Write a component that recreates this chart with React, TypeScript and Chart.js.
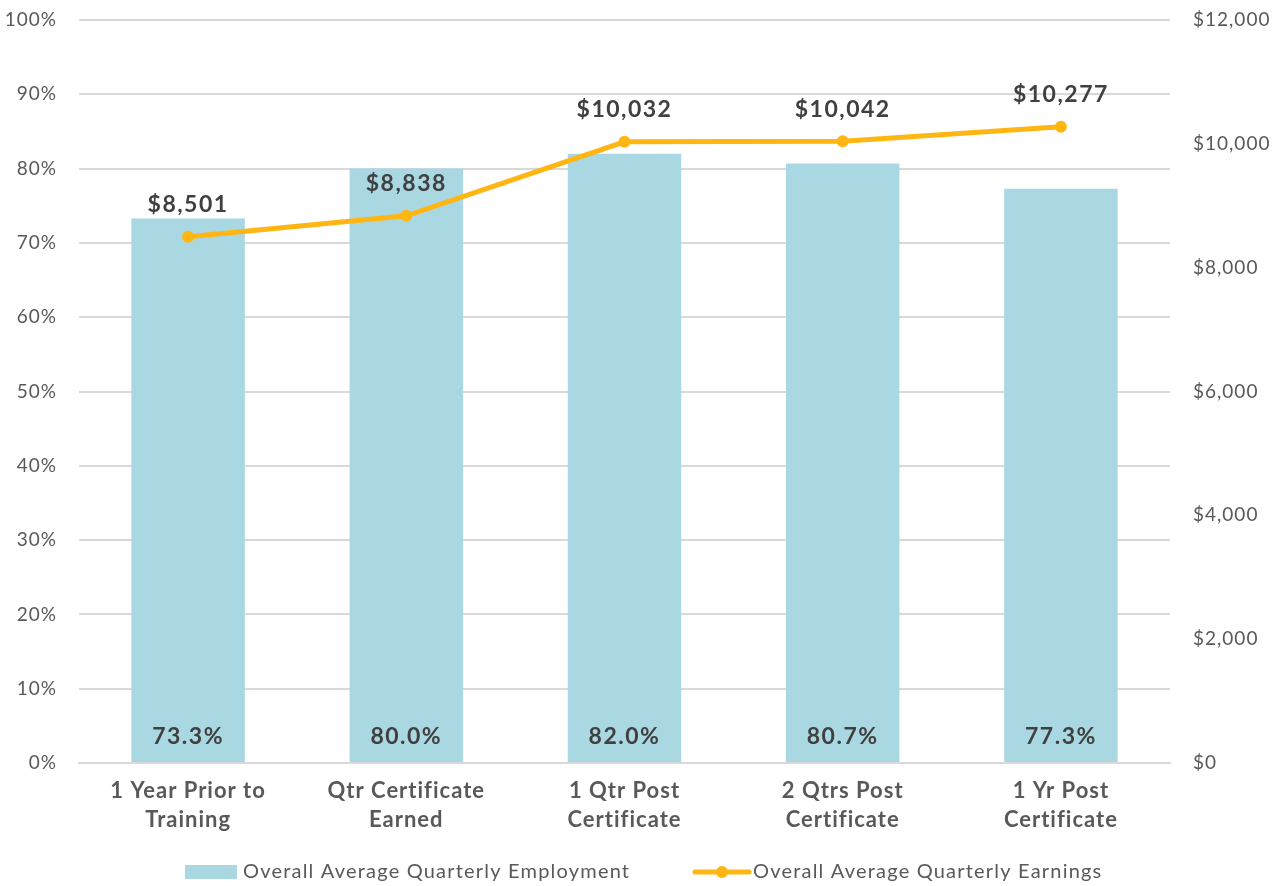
import React, { useEffect, useRef } from "react";
import { Chart, registerables } from "chart.js";

Chart.register(...registerables);

const categories: string[][] = [
  ["1 Year Prior to", "Training"],
  ["Qtr Certificate", "Earned"],
  ["1 Qtr Post", "Certificate"],
  ["2 Qtrs Post", "Certificate"],
  ["1 Yr Post", "Certificate"],
];
const employment: number[] = [73.3, 80.0, 82.0, 80.7, 77.3];
const earnings: number[] = [8501, 8838, 10032, 10042, 10277];
const employmentLabel = "Overall Average Quarterly Employment";
const earningsLabel = "Overall Average Quarterly Earnings";

const BAR_COLOR = "#A9D8E3";
const LINE_COLOR = "#FFB612";
const TEXT_DARK = "#404040";
const TICK_COLOR = "#595959";
const FONT = "Lato, 'Open Sans', sans-serif";

const spacingPlugin = {
  id: "spacing",
  beforeUpdate(chart: any) {
    chart.ctx.letterSpacing = "1px";
  },
  beforeDraw(chart: any) {
    chart.ctx.letterSpacing = "1px";
  },
};

const labelPlugin = {
  id: "customLabels",
  afterDatasetsDraw(chart: any) {
    const ctx = chart.ctx;
    ctx.save();
    ctx.letterSpacing = "1.5px";
    ctx.fillStyle = TEXT_DARK;
    ctx.textAlign = "center";
    ctx.textBaseline = "middle";
    ctx.font = `bold 23px ${FONT}`;
    const barMeta = chart.getDatasetMeta(0);
    const yScale = chart.scales.y;
    barMeta.data.forEach((el: any, i: number) => {
      ctx.fillText(employment[i].toFixed(1) + "%", el.x, yScale.bottom - 26);
    });
    const lineMeta = chart.getDatasetMeta(1);
    lineMeta.data.forEach((el: any, i: number) => {
      ctx.fillText("$" + earnings[i].toLocaleString("en-US"), el.x, el.y - 32);
    });
    ctx.restore();
  },
  afterDraw(chart: any) {
    const ctx = chart.ctx;
    ctx.save();
    ctx.letterSpacing = "1.2px";
    const cy = 872;
    ctx.font = `20px ${FONT}`;
    ctx.textBaseline = "middle";
    ctx.textAlign = "left";
    ctx.fillStyle = BAR_COLOR;
    ctx.fillRect(185, cy - 7, 52, 14);
    ctx.fillStyle = TICK_COLOR;
    ctx.fillText(employmentLabel, 243, cy);
    ctx.strokeStyle = LINE_COLOR;
    ctx.lineWidth = 5;
    ctx.lineCap = "round";
    ctx.beginPath();
    ctx.moveTo(695, cy);
    ctx.lineTo(749, cy);
    ctx.stroke();
    ctx.fillStyle = LINE_COLOR;
    ctx.beginPath();
    ctx.arc(722, cy, 6, 0, Math.PI * 2);
    ctx.fill();
    ctx.fillStyle = TICK_COLOR;
    ctx.fillText(earningsLabel, 753, cy);
    ctx.restore();
  },
};

export default function App() {
  const ref = useRef<HTMLCanvasElement>(null);
  useEffect(() => {
    if (!ref.current) return;
    const chart = new Chart(ref.current, {
      type: "bar",
      data: {
        labels: categories,
        datasets: [
          {
            type: "bar",
            label: employmentLabel,
            data: employment,
            backgroundColor: BAR_COLOR,
            yAxisID: "y",
            barPercentage: 0.52,
            categoryPercentage: 1,
            order: 2,
          },
          {
            type: "line",
            label: earningsLabel,
            data: earnings,
            borderColor: LINE_COLOR,
            backgroundColor: LINE_COLOR,
            borderWidth: 5,
            pointRadius: 6,
            pointBackgroundColor: LINE_COLOR,
            pointBorderWidth: 0,
            yAxisID: "y1",
            tension: 0,
            order: 1,
          } as any,
        ],
      },
      options: {
        responsive: false,
        animation: false,
        layout: { padding: { top: 20, left: 0, right: 0, bottom: 0 } },
        plugins: {
          legend: { display: false },
          tooltip: { enabled: false },
        },
        scales: {
          x: {
            grid: { display: false, drawTicks: false },
            border: { display: true, color: "#D9D9D9", width: 2 },
            ticks: {
              color: "#595959",
              font: { family: FONT, size: 22, weight: "bold", lineHeight: 1.32 },
              padding: 13,
              maxRotation: 0,
              autoSkip: false,
            },
            afterFit: (s: any) => {
              s.height = 123;
            },
          },
          y: {
            position: "left",
            min: 0,
            max: 100,
            ticks: {
              stepSize: 10,
              color: TICK_COLOR,
              font: { family: FONT, size: 19 },
              padding: 22,
              callback: (v: any) => v + "%",
            },
            grid: { color: "#D9D9D9", lineWidth: 2, drawTicks: false },
            border: { display: false },
            afterFit: (s: any) => {
              s.width = 79;
              s.paddingTop = 0;
              s.paddingBottom = 0;
            },
          },
          y1: {
            position: "right",
            min: 0,
            max: 12000,
            ticks: {
              stepSize: 2000,
              color: TICK_COLOR,
              font: { family: FONT, size: 19 },
              padding: 23,
              callback: (v: any) => "$" + Number(v).toLocaleString("en-US"),
            },
            grid: { display: false, drawTicks: false },
            border: { display: false },
            afterFit: (s: any) => {
              s.width = 116;
              s.paddingTop = 0;
              s.paddingBottom = 0;
            },
          },
        },
      },
      plugins: [spacingPlugin, labelPlugin],
    });
    return () => chart.destroy();
  }, []);
  return (
    <div style={{ position: "fixed", left: 0, top: 0, width: 1286, height: 886, background: "#fff" }}>
      <canvas ref={ref} width={1286} height={886} />
    </div>
  );
}
